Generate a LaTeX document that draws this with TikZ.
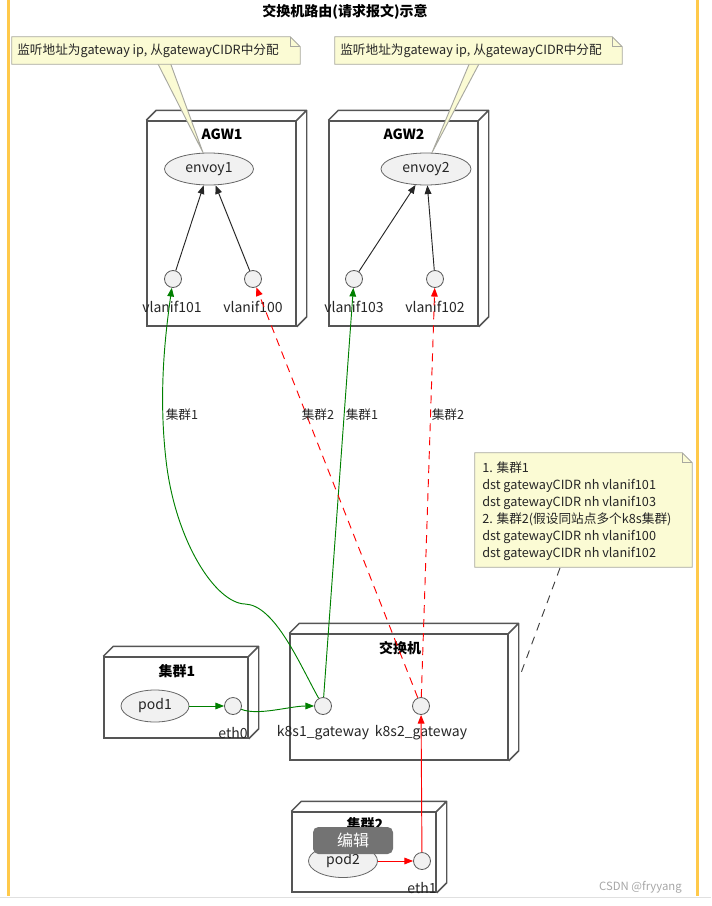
\documentclass[tikz,border=0pt]{standalone}
\usepackage{fontspec}
\setmainfont{Noto Sans CJK SC}
\usetikzlibrary{shapes.geometric,arrows.meta,fit}
\definecolor{notefill}{HTML}{FBFBD4}
\definecolor{noteline}{HTML}{A8A8A0}
\definecolor{nodefill}{HTML}{F1F1F1}
\definecolor{boxline}{HTML}{555555}
\definecolor{umlgreen}{HTML}{008000}
\definecolor{yel}{HTML}{FFC94A}
\newcommand\threedbox[1]{\draw[boxline,line width=1.1pt,line join=round] (#1.north west) -- ++(10,-10) -| ([shift={(10,-10)}]#1.south east) -- (#1.south east) (#1.north east) -- ++(10,-10);}
\newcommand\notepath[1]{%
 \filldraw[fill=notefill,draw=noteline,line width=0.7pt] (#1.north west) -- ([shift={(-10,0)}]#1.north east) -- ([shift={(0,10)}]#1.north east) -- (#1.south east) -- (#1.south west) -- cycle;
 \draw[noteline,line width=0.7pt] ([shift={(-10,0)}]#1.north east) |- ([shift={(0,10)}]#1.north east);}
\begin{document}
\begin{tikzpicture}[x=0.75pt,y=-0.75pt,
 box3d/.style={draw=boxline,line width=1.1pt,inner sep=0pt},
 boxtitle/.style={font=\bfseries\fontsize{10.5}{12}\selectfont,inner sep=0pt},
 ell/.style={ellipse,draw=gray!80!black,fill=nodefill,line width=0.6pt,inner sep=0pt,font=\fontsize{10.5}{12}\selectfont,text=black!85},
 port/.style={circle,draw=gray!70!black,fill=nodefill,line width=0.6pt,minimum size=12.75pt,inner sep=0pt},
 plbl/.style={font=\fontsize{10.5}{12}\selectfont,inner sep=0pt,text=black!85},
 elbl/.style={font=\fontsize{9.5}{11}\selectfont,inner sep=0pt,text=black!85},
 ntext/.style={font=\fontsize{9.5}{12.75}\selectfont,inner sep=0pt,align=left,text=black!85},
 notebox/.style={inner sep=0pt},
 tip/.style={-{Triangle[length=6.5pt,width=5pt]}},
 blk/.style={draw=black!85,line width=0.7pt,tip},
 grn/.style={draw=umlgreen,line width=0.7pt,tip},
 redd/.style={draw=red,line width=0.7pt,dash pattern=on 6pt off 4.5pt,tip},
 reds/.style={draw=red,line width=0.7pt,tip},
 notedash/.style={draw=black!75,line width=0.7pt,dash pattern=on 6pt off 5pt},
]
\useasboundingbox (0,0) rectangle (711,906);
% frame lines
\draw[yel,line width=1.7pt] (8.5,0) -- (8.5,896);
\draw[yel,line width=1.7pt] (697.5,0) -- (697.5,896);
\draw[black!12,line width=0.75pt] (0,897) -- (711,897);
% title
\node[font=\bfseries\fontsize{10.5}{12}\selectfont,inner sep=0pt] (title) at (345,12) {交换机路由(请求报文)示意};
% boxes
\node[box3d,fit={(147,121) (296,326)}] (agw1) {};
\threedbox{agw1}
\node[box3d,fit={(329,121) (478,326)}] (agw2) {};
\threedbox{agw2}
\node[box3d,fit={(290,634) (508,760)}] (sw) {};
\threedbox{sw}
\node[box3d,fit={(104,657) (248,738)}] (c1) {};
\threedbox{c1}
\node[box3d,fit={(292,812) (436,892)}] (c2) {};
\threedbox{c2}
\node[boxtitle] (agw1t) at (222,134) {AGW1};
\node[boxtitle] (agw2t) at (404,134) {AGW2};
\node[boxtitle] (swt) at (400,648) {交换机};
\node[boxtitle] (c1t) at (177,671) {集群1};
\node[boxtitle] (c2t) at (365,824) {集群2};
% inner nodes
\node[ell,minimum width=66.75pt,minimum height=24pt] (env1) at (209,169) {envoy1};
\node[ell,minimum width=67.5pt,minimum height=24pt] (env2) at (426,169) {envoy2};
\node[port] (v101) at (173,279) {};
\node[port] (v100) at (253,279) {};
\node[port] (v103) at (354,279) {};
\node[port] (v102) at (435,279) {};
\node[plbl] (v101l) at (172,307) {vlanif101};
\node[plbl] (v100l) at (253,307) {vlanif100};
\node[plbl] (v103l) at (354,307) {vlanif103};
\node[plbl] (v102l) at (435,307) {vlanif102};
\node[port] (k1) at (323,706) {};
\node[port] (k2) at (421,706) {};
\node[plbl] (k1l) at (323,733) {k8s1\_gateway};
\node[plbl] (k2l) at (421,733) {k8s2\_gateway};
\node[ell,minimum width=51pt,minimum height=24pt] (pod1) at (155,706) {pod1};
\node[port] (eth0) at (233,706) {};
\node[plbl] (eth0l) at (233,733) {eth0};
\node[ell,minimum width=51.75pt,minimum height=24.75pt] (pod2) at (343,861) {pod2};
\node[port] (eth1) at (422,861) {};
\node[plbl] (eth1l) at (422,888) {eth1};
% arrows inside AGW
\draw[blk] (v101) -- (env1);
\draw[blk] (v100) -- (env1);
\draw[blk] (v103) -- (env2);
\draw[blk] (v102) -- (env2);
% cluster flows
\draw[grn] (pod1) -- (eth0);
\draw[grn] (eth0) .. controls (258,716) and (290,706) .. (k1);
\draw[grn] (k1) .. controls (300,665) and (275,605) .. (245,604) .. controls (215,603) and (175,540) .. (166,460) .. controls (158,390) and (166,330) .. (v101);
\draw[grn] (k1) -- (v103);
\draw[reds] (pod2) -- (eth1);
\draw[reds] (eth1) -- (k2);
\draw[redd] (k2) -- (v100);
\draw[redd] (k2) -- (v102);
% edge labels
\node[elbl] (lab1) at (182,415) {集群1};
\node[elbl] (lab2) at (318,415) {集群2};
\node[elbl] (lab3) at (362,415) {集群1};
\node[elbl] (lab4) at (448,415) {集群2};
% notes
\filldraw[fill=notefill,draw=noteline,line width=0.7pt] (157,62) -- (env1.110) -- (170,62);
\filldraw[fill=notefill,draw=noteline,line width=0.7pt] (470,62) -- (env2.70) -- (480,62);
\node[notebox,fit={(12,37) (300,64)}] (n1) {};
\notepath{n1}
\node[ntext,anchor=west] (n1t) at (17,51) {监听地址为gateway ip, 从gatewayCIDR中分配};
\node[notebox,fit={(335,37) (622,64)}] (n2) {};
\notepath{n2}
\node[ntext,anchor=west] (n2t) at (340,51) {监听地址为gateway ip, 从gatewayCIDR中分配};
\node[notebox,fit={(475,453) (692,567)}] (rn) {};
\notepath{rn}
\node[ntext,anchor=west] (rnt) at (482,511.5) {1. 集群1\\dst gatewayCIDR nh vlanif101\\dst gatewayCIDR nh vlanif103\\2. 集群2(假设同站点多个k8s集群)\\dst gatewayCIDR nh vlanif100\\dst gatewayCIDR nh vlanif102};
\coordinate (rnb) at (560,568);
\coordinate (swr) at (521,673);
\draw[notedash] (rnb) -- (swr);
% overlay and watermark
\node[fill=black!55,rounded corners=4pt,minimum width=60pt,minimum height=20.25pt,inner sep=0pt,text=white,font=\fontsize{12}{14}\selectfont] (edit) at (353,840.5) {编辑};
\node[text=black!35,font=\fontsize{8.5}{10}\selectfont,anchor=east,inner sep=0pt] (wm) at (682,887) {CSDN @fryyang};
\end{tikzpicture}
\end{document}
